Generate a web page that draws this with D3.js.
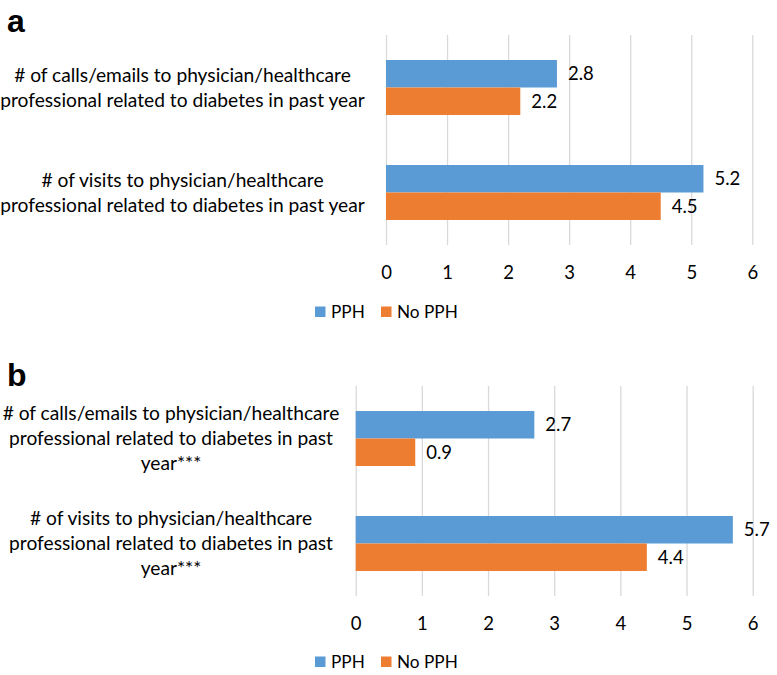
<!DOCTYPE html>
<html>
<head>
<meta charset="utf-8">
<script src="https://cdn.jsdelivr.net/npm/d3@7"></script>
<style>
  html, body { margin: 0; padding: 0; background: #fff; }
  svg { display: block; }
</style>
</head>
<body>
<svg id="chart" width="777" height="675"></svg>
<script>
// ---- data ----
const seriesNames = ["PPH", "No PPH"];
const seriesColors = ["#5B9BD5", "#ED7D31"];
const tickValues = [0, 1, 2, 3, 4, 5, 6];

const categoriesA = ["calls", "visits"];
const labelLinesA = [
  ["# of calls/emails to physician/healthcare", "professional related to diabetes in past year"],
  ["# of visits to physician/healthcare", "professional related to diabetes in past year"]
];
const pphA = [2.8, 5.2];
const noPphA = [2.2, 4.5];

const categoriesB = ["calls", "visits"];
const labelLinesB = [
  ["# of calls/emails to physician/healthcare", "professional related to diabetes in past", "year***"],
  ["# of visits to physician/healthcare", "professional related to diabetes in past", "year***"]
];
const pphB = [2.7, 5.7];
const noPphB = [0.9, 4.4];

// ---- drawing ----
const svg = d3.select("#chart");
const FONT = "Lato, 'Open Sans', sans-serif";

function panel(opt) {
  const g = svg.append("g");
  const x = d3.scaleLinear().domain([0, 6]).range([opt.x0, opt.x1]);
  const y = d3.scaleBand().domain(opt.categories).range([opt.top, opt.bottom]).padding(0);
  const ys = d3.scaleBand().domain(seriesNames).range([0, y.bandwidth()])
    .paddingInner(0).paddingOuter(0.91);

  // panel letter
  g.append("text").attr("x", 7).attr("y", opt.letterY)
    .attr("font-family", "'Liberation Sans', Arial, sans-serif")
    .attr("font-weight", "bold").attr("font-size", 32).attr("fill", "#000")
    .text(opt.letter);

  // gridlines
  g.append("g")
    .attr("transform", `translate(0,${opt.bottom})`)
    .call(d3.axisBottom(x).tickValues(tickValues).tickSize(-(opt.bottom - opt.top)).tickFormat(""))
    .call(a => a.select(".domain").remove())
    .call(a => a.selectAll(".tick line").attr("stroke", "#D9D9D9").attr("stroke-width", 1.3));

  // tick labels
  g.append("g")
    .attr("transform", `translate(0,${opt.bottom})`)
    .call(d3.axisBottom(x).tickValues(tickValues).tickSize(0).tickPadding(21).tickFormat(d3.format("d")))
    .call(a => a.select(".domain").remove())
    .call(a => a.selectAll(".tick text").attr("font-family", FONT).attr("font-size", 18.5).attr("fill", "#000"));

  const rows = opt.categories.map((c, i) => ({ c, i, vals: [opt.s1[i], opt.s2[i]] }));

  // bars
  rows.forEach(r => {
    r.vals.forEach((v, k) => {
      const yy = y(r.c) + ys(seriesNames[k]);
      g.append("rect")
        .attr("x", x(0)).attr("y", yy)
        .attr("width", x(v) - x(0)).attr("height", ys.bandwidth())
        .attr("fill", seriesColors[k]);
      g.append("text")
        .attr("x", x(v) + 11).attr("y", yy + ys.bandwidth() / 2)
        .attr("dy", "0.35em")
        .attr("font-family", FONT).attr("font-size", 18.5).attr("fill", "#000")
        .text(d3.format(".1f")(v));
    });
    // category label
    const lines = opt.labelLines[r.i];
    const cy = y(r.c) + y.bandwidth() / 2;
    const lh = 25;
    const t = g.append("text")
      .attr("text-anchor", "middle")
      .attr("font-family", FONT).attr("font-size", 19.2).attr("fill", "#000");
    lines.forEach((ln, j) => {
      t.append("tspan")
        .attr("x", opt.labelX)
        .attr("y", cy + (j - (lines.length - 1) / 2) * lh)
        .attr("dy", "0.35em")
        .text(ln);
    });
  });

  // legend
  const lg = g.append("g");
  const legX = [315, 381];
  seriesNames.forEach((s, k) => {
    lg.append("rect").attr("x", legX[k]).attr("y", opt.legendY - 5.5)
      .attr("width", 10.5).attr("height", 10.5).attr("fill", seriesColors[k]);
    lg.append("text").attr("x", legX[k] + 16).attr("y", opt.legendY)
      .attr("dy", "0.35em")
      .attr("font-family", FONT).attr("font-size", 17.2).attr("fill", "#000")
      .text(s);
  });
}

panel({
  letter: "a", letterY: 32,
  categories: categoriesA, labelLines: labelLinesA, s1: pphA, s2: noPphA,
  x0: 386, x1: 752.3, top: 35, bottom: 245, labelX: 182.5, legendY: 312
});
panel({
  letter: "b", letterY: 386,
  categories: categoriesB, labelLines: labelLinesB, s1: pphB, s2: noPphB,
  x0: 355.7, x1: 752.7, top: 386, bottom: 596, labelX: 171, legendY: 662
});
</script>
</body>
</html>
